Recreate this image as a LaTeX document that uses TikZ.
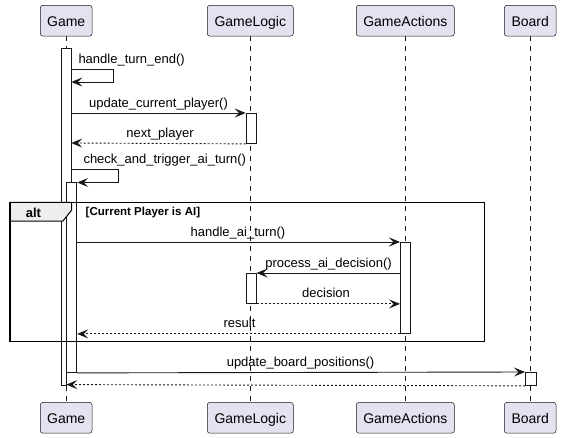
\documentclass[tikz,border=0pt]{standalone}
\usepackage{fontspec}
\setmainfont{Liberation Sans}
\usetikzlibrary{arrows.meta}
\definecolor{partfill}{HTML}{E2E2F0}
\definecolor{ink}{HTML}{181818}
\definecolor{tabfill}{HTML}{EEEEEE}
\begin{document}
\begin{tikzpicture}[x=1pt,y=-1pt,
 participant/.style={draw=ink, line width=0.5pt, fill=partfill, rounded corners=2.5pt, inner sep=0pt,
   font=\fontsize{14}{16}\selectfont, text height=11.2pt, text depth=0pt, minimum height=30.7pt},
 lifeline/.style={draw=ink, line width=0.5pt, dash pattern=on 5pt off 5pt},
 barpath/.style={draw=ink, line width=0.9pt, fill=white},
 bar/.style={barpath, inner sep=0pt, minimum width=10pt, anchor=north west},
 msg/.style={draw=ink, line width=0.9pt, -{Stealth[length=11pt,width=9pt,inset=4.5pt]}},
 ret/.style={msg, dash pattern=on 2pt off 2pt},
 lbl/.style={font=\fontsize{13}{15}\selectfont, anchor=base, inner sep=0pt},
 framebox/.style={draw=black, line width=1.5pt},
 tabbox/.style={draw=black, line width=1pt, fill=tabfill},
]
\useasboundingbox (0,0) rectangle (561,438);

% participants
\node[participant, minimum width=51.7pt] (gameT) at (66.2,20.7) {Game};
\node[participant, minimum width=86pt] (logicT) at (250.3,20.7) {GameLogic};
\node[participant, minimum width=98pt] (actT) at (405.3,20.7) {GameActions};
\node[participant, minimum width=51.7pt] (boardT) at (530.2,20.7) {Board};
\node[participant, minimum width=51.7pt] (gameB) at (66.2,417.8) {Game};
\node[participant, minimum width=86pt] (logicB) at (250.3,417.8) {GameLogic};
\node[participant, minimum width=98pt] (actB) at (405.3,417.8) {GameActions};
\node[participant, minimum width=51.7pt] (boardB) at (530.2,417.8) {Board};

% lifelines
\draw[lifeline] (gameT) -- (gameB);
\draw[lifeline] (logicT) -- (logicB);
\draw[lifeline] (actT) -- (actB);
\draw[lifeline] (boardT) -- (boardB);

% activation bars
\path[barpath] (61.3,48) -- (71.3,48) -- (71.3,372) -- (66.3,372) -- (66.3,385) -- (61.3,385) -- cycle;
\node[bar, minimum height=189.5pt] (gInner) at (66.3,182.5) {};
\node[bar, minimum height=30pt] (gl1) at (245.7,113) {};
\node[bar, minimum height=30pt] (gl2) at (245.7,273) {};
\node[bar, minimum height=91pt, minimum width=10.3pt] (ga1) at (400,242) {};
\node[bar, minimum height=13pt, minimum width=10.7pt] (bd1) at (525,372) {};

% message end points on the outer Game bar
\coordinate (h1s) at (71.3,69);
\coordinate (h1e) at (71.3,82);
\coordinate (m2s) at (71.3,113);
\coordinate (m3e) at (71.3,143);
\coordinate (m4s) at (71.3,169);
\coordinate (m10e) at (66.3,384.6);

% messages
\draw[msg] (h1s) -- ++(42,0) |- (h1e);
\draw[msg] (m2s) -- (gl1.north west);
\draw[ret] (gl1.south west) -- (m3e);
\draw[msg] (m4s) -- ++(46.7,0) |- (gInner.north east);
\draw[msg] (gInner.east |- ga1.north) -- (ga1.north west);
\draw[msg] (ga1.west |- gl2.north) -- (gl2.north east);
\draw[ret] (gl2.south east) -- (ga1.west |- gl2.south);
\draw[ret] (ga1.south west) -- (gInner.east |- ga1.south);
\draw[msg] (gInner.south east) -- (bd1.north west);
\draw[ret] (bd1.south west) -- (m10e);

% alt frame
\path[tabbox] (10,202.3) -- (71.7,202.3) -- (71.7,210) -- (63,221) -- (10,221);
\draw[framebox] (10,202.3) rectangle (484.3,341.7);
\node[anchor=base west, inner sep=0pt, font=\bfseries\fontsize{13}{15}\selectfont] (altlbl) at (25.7,217) {alt};
\node[anchor=base west, inner sep=0pt, font=\bfseries\fontsize{11.5}{13}\selectfont] (guard) at (85.5,215) {[Current Player is AI]};

% labels
\node[lbl, anchor=base west] (l1) at (78.3,63.8) {handle\_turn\_end()};
\node[lbl] (l2) at (158.5,107.5) {update\_current\_player()};
\node[lbl] (l3) at (160,137.5) {next\_player};
\node[lbl, anchor=base west] (l4) at (83.3,163.5) {check\_and\_trigger\_ai\_turn()};
\node[lbl] (l5) at (238,236.5) {handle\_ai\_turn()};
\node[lbl] (l6) at (328.5,267.5) {process\_ai\_decision()};
\node[lbl] (l7) at (326,297.5) {decision};
\node[lbl] (l8) at (239.5,327.5) {result};
\node[lbl] (l9) at (300.5,366) {update\_board\_positions()};
\end{tikzpicture}
\end{document}
